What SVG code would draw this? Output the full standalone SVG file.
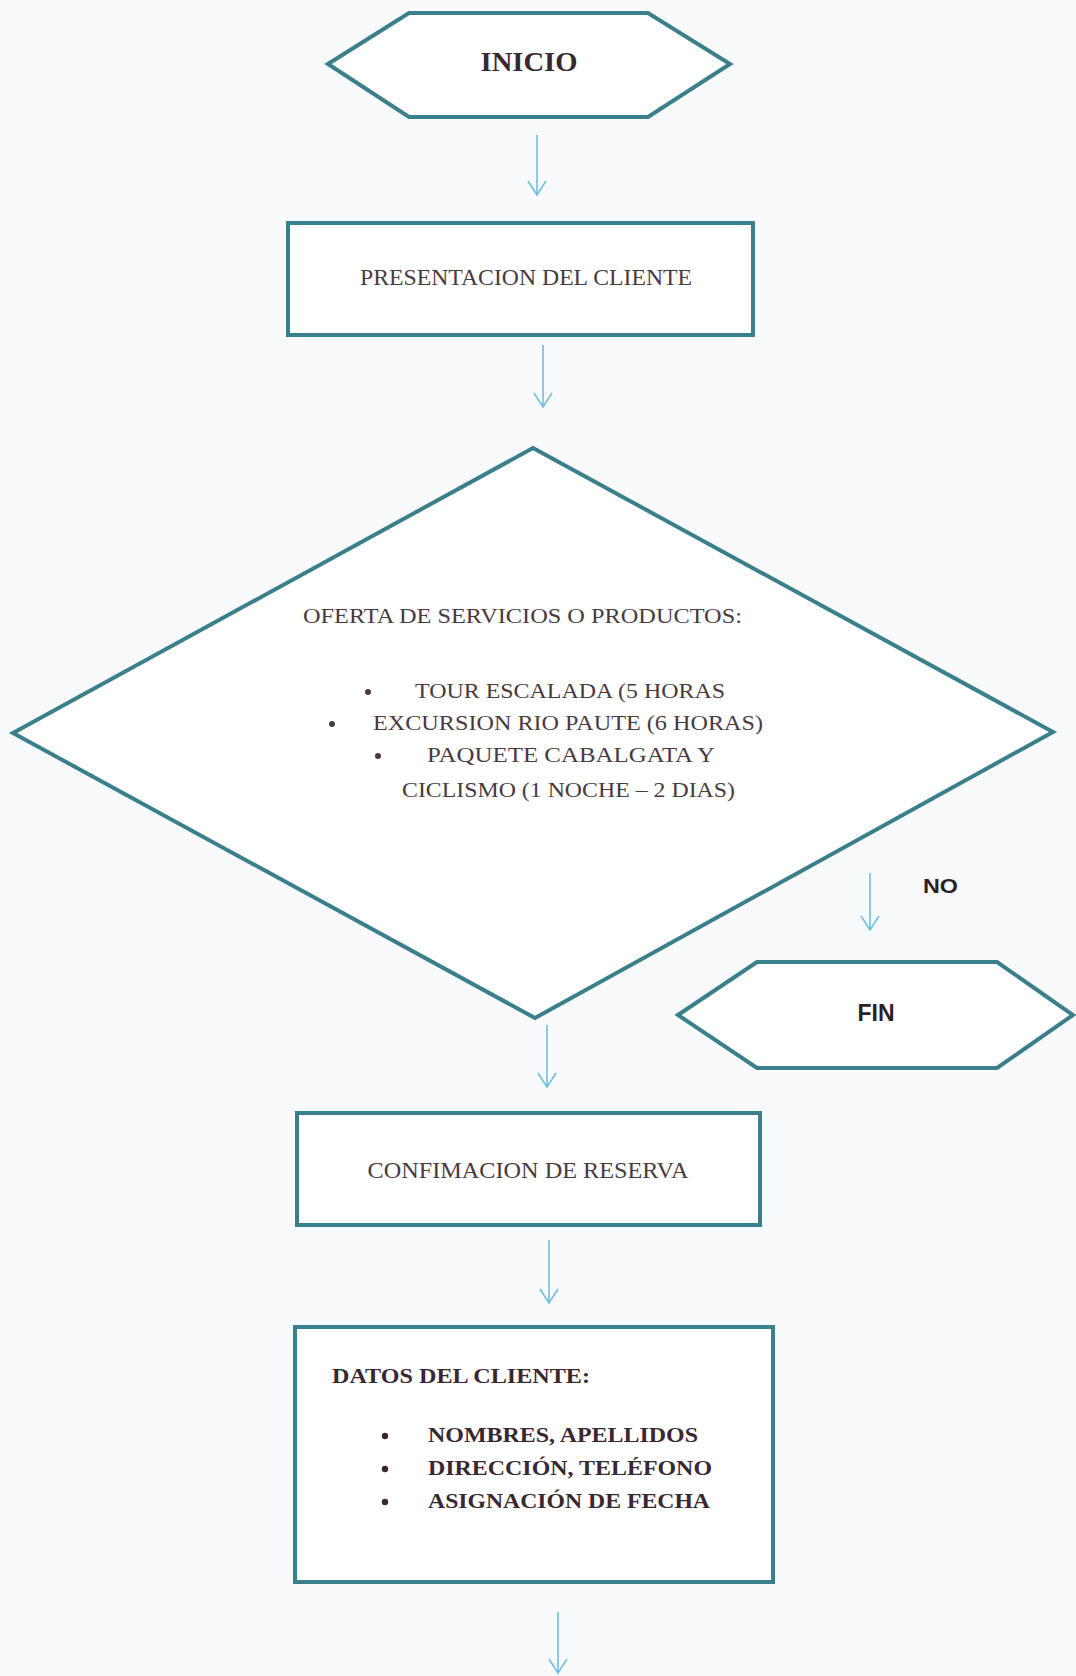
<svg xmlns="http://www.w3.org/2000/svg" width="1076" height="1676" viewBox="0 0 1076 1676">
<style>
.shape{fill:#ffffff;stroke:#3a7f8c;stroke-width:4;stroke-linejoin:miter}
.conn{stroke:#72bfe0;stroke-width:1.6;fill:none}
.serif{font-family:"Liberation Serif","Times New Roman",serif;fill:#4a3a40}
.bold{font-weight:bold;fill:#3a2830}
.sans{font-family:"Liberation Sans",Arial,sans-serif;font-weight:bold;fill:#2e1e26}
</style>
<rect x="0" y="0" width="1076" height="1676" fill="#f8fafb"/>
<g id="inicio">
<polygon class="shape" points="328,64 409,13 648,13 730,64 648,117 409,117"/>
<text class="serif bold" x="529" y="71" font-size="28" text-anchor="middle" textLength="97" lengthAdjust="spacingAndGlyphs">INICIO</text>
</g>
<g id="presentacion">
<rect class="shape" x="288" y="223" width="465" height="112"/>
<text class="serif" x="526" y="285" font-size="23.5" text-anchor="middle" textLength="332" lengthAdjust="spacingAndGlyphs">PRESENTACION DEL CLIENTE</text>
</g>
<g id="oferta">
<polygon class="shape" points="533,448 1053,732 535,1018 13,733"/>
<text class="serif" x="303" y="623" font-size="20.5" textLength="439" lengthAdjust="spacingAndGlyphs">OFERTA DE SERVICIOS O PRODUCTOS:</text>
<circle cx="368" cy="692" r="3" fill="#4a3a40"/>
<text class="serif" x="415" y="698" font-size="20.5" textLength="310" lengthAdjust="spacingAndGlyphs">TOUR ESCALADA (5 HORAS</text>
<circle cx="332" cy="724" r="3" fill="#4a3a40"/>
<text class="serif" x="373" y="730" font-size="20.5" textLength="390" lengthAdjust="spacingAndGlyphs">EXCURSION RIO PAUTE (6 HORAS)</text>
<circle cx="378" cy="756" r="3" fill="#4a3a40"/>
<text class="serif" x="427" y="762" font-size="20.5" textLength="288" lengthAdjust="spacingAndGlyphs">PAQUETE CABALGATA Y</text>
<text class="serif" x="402" y="797" font-size="20.5" textLength="333" lengthAdjust="spacingAndGlyphs">CICLISMO (1 NOCHE – 2 DIAS)</text>
</g>
<g id="fin">
<polygon class="shape" points="678,1015 757,962 997,962 1073,1015 997,1068 757,1068"/>
<text class="sans" x="876" y="1021" font-size="23" text-anchor="middle">FIN</text>
</g>
<g id="confirmacion">
<rect class="shape" x="297" y="1113" width="463" height="112"/>
<text class="serif" x="528" y="1178" font-size="23.5" text-anchor="middle" textLength="321" lengthAdjust="spacingAndGlyphs">CONFIMACION DE RESERVA</text>
</g>
<g id="datos">
<rect class="shape" x="295" y="1327" width="478" height="255"/>
<text class="serif bold" x="332" y="1383" font-size="22" textLength="258" lengthAdjust="spacingAndGlyphs">DATOS DEL CLIENTE:</text>
<circle cx="385" cy="1436" r="3.2" fill="#3a2830"/>
<text class="serif bold" x="428" y="1442" font-size="22" textLength="270" lengthAdjust="spacingAndGlyphs">NOMBRES, APELLIDOS</text>
<circle cx="385" cy="1469" r="3.2" fill="#3a2830"/>
<text class="serif bold" x="428" y="1475" font-size="22" textLength="284" lengthAdjust="spacingAndGlyphs">DIRECCIÓN, TELÉFONO</text>
<circle cx="385" cy="1502" r="3.2" fill="#3a2830"/>
<text class="serif bold" x="428" y="1508" font-size="22" textLength="282" lengthAdjust="spacingAndGlyphs">ASIGNACIÓN DE FECHA</text>
</g>
<g id="connectors">
<path class="conn" d="M537,135 V195 M528,181 L537,195 L546,181"/>
<path class="conn" d="M543,345 V407 M534,393 L543,407 L552,393"/>
<path class="conn" d="M870,873 V930 M861,916 L870,930 L879,916"/>
<text class="sans" x="923" y="893" font-size="20.5" textLength="35" lengthAdjust="spacingAndGlyphs">NO</text>
<path class="conn" d="M547,1025 V1087 M538,1073 L547,1087 L556,1073"/>
<path class="conn" d="M549,1240 V1303 M540,1289 L549,1303 L558,1289"/>
<path class="conn" d="M558,1612 V1673 M549,1659 L558,1673 L567,1659"/>
</g>
</svg>
